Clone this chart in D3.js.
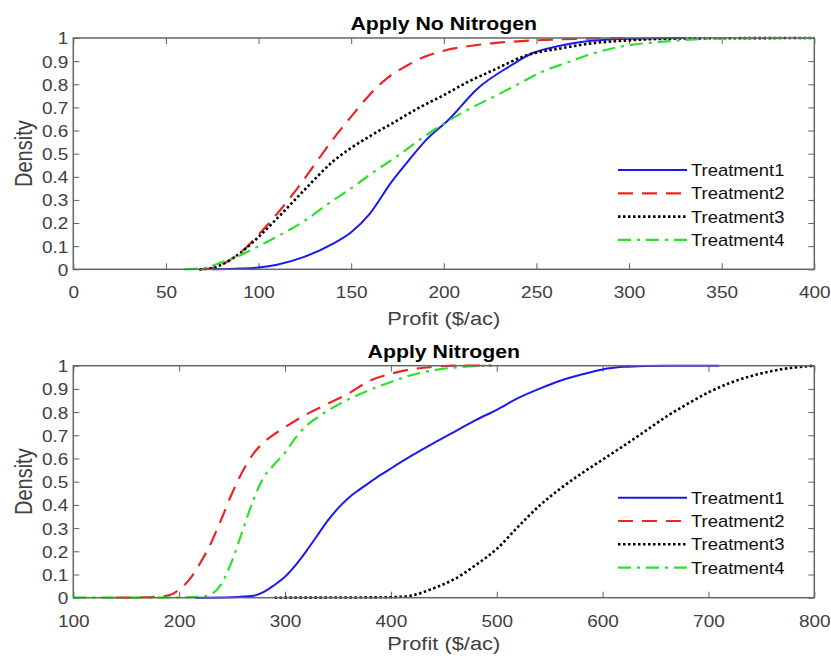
<!DOCTYPE html>
<html lang="en">
<head>
<meta charset="UTF-8">
<title>Profit CDF by treatment</title>
<script src="https://d3js.org/d3.v7.min.js"></script>
<style>
  *{margin:0; padding:0;}
  body{background:#fff;}
  text{font-family:"Liberation Sans", Arial, Helvetica, sans-serif;}
  .tick text{fill:#404040; font-size:16.5px;}
  .tick line{stroke:#606060; stroke-width:1;}
  .domain{display:none;}
</style>
</head>
<body>
<script>
// series names and styles
const treatments = ["Treatment1", "Treatment2", "Treatment3", "Treatment4"];
const yTicks = [0, 0.1, 0.2, 0.3, 0.4, 0.5, 0.6, 0.7, 0.8, 0.9, 1];
const xTicksNoN = [0, 50, 100, 150, 200, 250, 300, 350, 400];
const xTicksN = [100, 200, 300, 400, 500, 600, 700, 800];

// Apply No Nitrogen  [profit, cumulative density]
const noN_T1 = [[75,0],[90,0.003],[100,0.008],[110,0.02],[125,0.055],[140,0.11],[150,0.16],[160,0.24],[172,0.38],[180,0.46],[190,0.555],[203,0.65],[218,0.78],[236,0.88],[248,0.935],[262,0.965],[280,0.988],[300,0.997],[330,1]];
const noN_T2 = [[68,0],[75,0.005],[80,0.02],[90,0.07],[100,0.15],[110,0.24],[120,0.34],[130,0.45],[140,0.56],[150,0.66],[160,0.755],[170,0.83],[180,0.88],[190,0.92],[200,0.945],[212,0.963],[226,0.977],[250,0.99],[275,0.997],[300,1]];
const noN_T3 = [[68,0],[75,0.005],[80,0.02],[90,0.07],[100,0.14],[110,0.22],[125,0.345],[140,0.465],[150,0.525],[160,0.575],[173,0.635],[187,0.7],[200,0.753],[213,0.81],[227,0.862],[245,0.926],[263,0.955],[280,0.977],[300,0.99],[330,0.998],[400,1]];
const noN_T4 = [[60,0],[70,0.005],[80,0.03],[90,0.06],[100,0.1],[112,0.15],[125,0.21],[137,0.28],[150,0.35],[162,0.42],[175,0.49],[187,0.56],[200,0.63],[213,0.69],[227,0.746],[240,0.8],[253,0.854],[267,0.895],[281,0.934],[295,0.962],[320,0.985],[350,0.998],[400,1]];

// Apply Nitrogen
const n_T1 = [[215,0],[250,0.002],[270,0.008],[280,0.025],[290,0.055],[300,0.09],[310,0.14],[320,0.2],[330,0.265],[340,0.33],[350,0.385],[360,0.43],[370,0.465],[380,0.497],[390,0.528],[400,0.557],[420,0.613],[440,0.665],[460,0.715],[480,0.765],[500,0.81],[520,0.86],[540,0.9],[560,0.935],[580,0.962],[600,0.984],[620,0.995],[640,0.999],[660,1],[710,1]];
const n_T2 = [[140,0],[170,0.002],[190,0.01],[200,0.035],[210,0.08],[220,0.15],[230,0.235],[240,0.34],[250,0.45],[260,0.545],[270,0.62],[280,0.67],[290,0.705],[300,0.735],[320,0.79],[340,0.835],[360,0.88],[380,0.935],[400,0.965],[420,0.985],[440,0.995],[460,1],[495,1]];
const n_T3 = [[290,0],[400,0.002],[420,0.01],[440,0.04],[460,0.08],[480,0.14],[500,0.21],[520,0.305],[540,0.395],[560,0.47],[580,0.535],[600,0.595],[620,0.655],[640,0.717],[660,0.78],[680,0.835],[700,0.885],[720,0.925],[740,0.955],[760,0.977],[780,0.992],[800,1]];
const n_T4 = [[100,0],[200,0.001],[222,0.005],[232,0.02],[240,0.06],[250,0.16],[260,0.29],[270,0.42],[280,0.52],[290,0.575],[300,0.625],[310,0.69],[320,0.74],[335,0.79],[360,0.855],[380,0.895],[400,0.93],[420,0.96],[440,0.98],[460,0.992],[480,0.998],[495,1]];

const styles = [
  {color:"#1a1aee", dash:null, width:2},
  {color:"#ee2424", dash:"15,9", width:2.2},
  {color:"#000000", dash:"2.5,2.5", width:2.6},
  {color:"#2ee02e", dash:"13,6,3,6", width:2.2}
];

const W = 831, H = 656;
const SX = 1.15; // reference text is a bit wide
const left = 73.3, right = 814.3;

let svg = d3.select("body").append("svg")
  .attr("width", W).attr("height", H);

function panel(top, bottom, xDomain, xTicks, title, series, labelY){
  let x = d3.scaleLinear().domain(xDomain).range([left, right]);
  let y = d3.scaleLinear().domain([0, 1]).range([bottom, top]);
  let g = svg.append("g");

  // ticks on all four sides, pointing in
  g.append("g").attr("transform", "translate(0," + bottom + ")")
    .call(d3.axisBottom(x).tickValues(xTicks).tickSize(-6).tickFormat(d3.format("d")))
    .selectAll("text").attr("y", 29).attr("dy", 0)
    .attr("transform", "scale(" + SX + ",1)");
  g.append("g").attr("transform", "translate(0," + top + ")")
    .call(d3.axisTop(x).tickValues(xTicks).tickSize(-6).tickFormat(""));
  g.append("g").attr("transform", "translate(" + left + ",0)")
    .call(d3.axisLeft(y).tickValues(yTicks).tickSize(-6).tickPadding(5).tickFormat(d3.format("")))
    .selectAll("text").attr("x", -5 / SX).attr("dy", "0.36em")
    .attr("transform", "scale(" + SX + ",1)");
  g.append("g").attr("transform", "translate(" + right + ",0)")
    .call(d3.axisRight(y).tickValues(yTicks).tickSize(-6).tickFormat(""));

  // curves
  let line = d3.line()
    .x(function(d){ return x(d[0]); })
    .y(function(d){ return y(d[1]); })
    .curve(d3.curveMonotoneX);
  g.append("g").selectAll("path").data(series).enter().append("path")
    .attr("d", function(d){ return line(d); })
    .attr("fill", "none")
    .attr("stroke", function(d, i){ return styles[i].color; })
    .attr("stroke-width", function(d, i){ return styles[i].width; })
    .attr("stroke-dasharray", function(d, i){ return styles[i].dash; });

  // box
  g.append("rect").attr("x", left).attr("y", top)
    .attr("width", right - left).attr("height", bottom - top)
    .attr("fill", "none").attr("stroke", "#666").attr("stroke-width", 1.5);

  // legend
  let leg = g.append("g").selectAll("g").data(treatments).enter().append("g")
    .attr("transform", function(d, i){ return "translate(0," + (top + 132 + i * 23.3) + ")"; });
  leg.append("line").attr("x1", 618).attr("x2", 687)
    .attr("stroke", function(d, i){ return styles[i].color; })
    .attr("stroke-width", function(d, i){ return styles[i].width; })
    .attr("stroke-dasharray", function(d, i){ return styles[i].dash; });
  leg.append("text").text(function(d){ return d; })
    .attr("transform", "translate(691,6) scale(" + SX + ",1)")
    .attr("font-size", 16).attr("fill", "#111");

  // title and labels
  svg.append("text").text(title)
    .attr("transform", "translate(" + (left + right) / 2 + "," + (top - 8) + ") scale(" + SX + ",1)")
    .attr("text-anchor", "middle").attr("font-size", 18.5).attr("font-weight", "bold").attr("fill", "#000");
  svg.append("text").text("Profit ($/ac)")
    .attr("transform", "translate(" + (left + right) / 2 + "," + labelY + ") scale(" + SX + ",1)")
    .attr("text-anchor", "middle").attr("font-size", 19).attr("fill", "#404040");
  svg.append("text").text("Density")
    .attr("transform", "translate(31.5," + (top + bottom) / 2 + ") scale(" + SX + ",1) rotate(-90)")
    .attr("text-anchor", "middle").attr("font-size", 20).attr("fill", "#404040");
}

panel(38, 269.3, [0, 400], xTicksNoN, "Apply No Nitrogen", [noN_T1, noN_T2, noN_T3, noN_T4], 325);
panel(365.7, 597.7, [100, 800], xTicksN, "Apply Nitrogen", [n_T1, n_T2, n_T3, n_T4], 650);
</script>
</body>
</html>
